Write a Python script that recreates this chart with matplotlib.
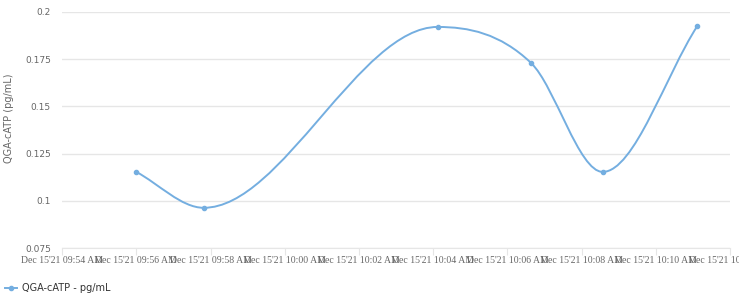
#!/usr/bin/env python3
"""QGA-cATP readings over one morning, smooth monotone line with point markers."""

from datetime import datetime

import numpy as np
import matplotlib
matplotlib.use("Agg")
import matplotlib.pyplot as plt
import matplotlib.dates as mdates
from matplotlib.path import Path
from matplotlib.patches import PathPatch
from matplotlib.lines import Line2D

# --- data ---
times = [
    datetime(2021, 12, 15, 9, 56, 0),
    datetime(2021, 12, 15, 9, 57, 49),
    datetime(2021, 12, 15, 10, 4, 7),
    datetime(2021, 12, 15, 10, 6, 38),
    datetime(2021, 12, 15, 10, 8, 34),
    datetime(2021, 12, 15, 10, 11, 7),
]
catp = [0.1153, 0.0963, 0.1920, 0.1730, 0.1153, 0.1925]

series_label = "QGA-cATP - pg/mL"
y_label = "QGA-cATP (pg/mL)"
y_ticks = [0.075, 0.1, 0.125, 0.15, 0.175, 0.2]
x_start = datetime(2021, 12, 15, 9, 54)
x_end = datetime(2021, 12, 15, 10, 12)

LINE_COLOR = "#74aee0"
GRID_COLOR = "#e6e6e6"
TEXT_COLOR = "#666666"


def monotone_slopes(x: np.ndarray, y: np.ndarray) -> np.ndarray:
    """Averaged tangents, zeroed at extrema and clamped (monotone spline)."""
    h = np.diff(x)
    d = np.diff(y) / h
    n = len(y)
    m = np.zeros(n)
    m[0], m[-1] = d[0], d[-1]
    for k in range(1, n - 1):
        if d[k - 1] * d[k] <= 0:
            m[k] = 0.0
        else:
            m[k] = (d[k - 1] + d[k]) / 2
    for k in range(n - 1):
        if d[k] == 0:
            m[k] = m[k + 1] = 0.0
            continue
        a = m[k] / d[k]
        b = m[k + 1] / d[k]
        tau = a * a + b * b
        if tau > 9:
            s = 3 / np.sqrt(tau)
            m[k] = a * s * d[k]
            m[k + 1] = b * s * d[k]
    return m


def smooth_path(x: np.ndarray, y: np.ndarray) -> Path:
    m = monotone_slopes(x, y)
    verts = [(x[0], y[0])]
    codes = [Path.MOVETO]
    for k in range(len(x) - 1):
        h = x[k + 1] - x[k]
        verts += [
            (x[k] + h / 3, y[k] + m[k] * h / 3),
            (x[k + 1] - h / 3, y[k + 1] - m[k + 1] * h / 3),
            (x[k + 1], y[k + 1]),
        ]
        codes += [Path.CURVE4] * 3
    return Path(verts, codes)


fig = plt.figure(figsize=(7.39, 2.96), dpi=100)
ax = fig.add_axes([0.084, 0.162, 0.904, 0.798])

xn = np.array(mdates.date2num(times))
yv = np.array(catp)

ax.add_patch(PathPatch(smooth_path(xn, yv), facecolor="none",
                       edgecolor=LINE_COLOR, linewidth=1.4, zorder=3))
ax.plot(xn, yv, "o", color=LINE_COLOR, markersize=3, zorder=4)

ax.set_xlim(mdates.date2num(x_start), mdates.date2num(x_end))
ax.set_ylim(y_ticks[0], y_ticks[-1])
ax.set_yticks(y_ticks)
ax.set_yticklabels([f"{v:g}" for v in y_ticks])

ax.xaxis.set_major_locator(mdates.MinuteLocator(byminute=range(0, 60, 2)))
ax.xaxis.set_major_formatter(mdates.DateFormatter("%b %d'%y %I:%M %p"))

ax.grid(axis="y", color=GRID_COLOR, linewidth=1)
ax.set_axisbelow(True)
for side in ["top", "right", "left"]:
    ax.spines[side].set_visible(False)
ax.spines["bottom"].set_color(GRID_COLOR)

ax.tick_params(axis="y", length=0, pad=8, labelsize=6.5, labelcolor=TEXT_COLOR)
ax.tick_params(axis="x", length=5, color=GRID_COLOR, pad=1, labelsize=7,
               labelcolor=TEXT_COLOR)
for lab in ax.get_xticklabels():
    lab.set_family("Liberation Serif")

ax.set_ylabel(y_label, fontsize=7, color=TEXT_COLOR, labelpad=6)
ax.yaxis.set_label_coords(-0.072, 0.55)

handle = Line2D([], [], color=LINE_COLOR, marker="o", markersize=3, linewidth=1.4)
fig.legend([handle], [series_label], loc="lower left", bbox_to_anchor=(-0.005, -0.02),
           frameon=False, fontsize=7, handlelength=1.2, handletextpad=0.5,
           labelcolor="#333333")

fig.savefig("out.png", dpi=100)
